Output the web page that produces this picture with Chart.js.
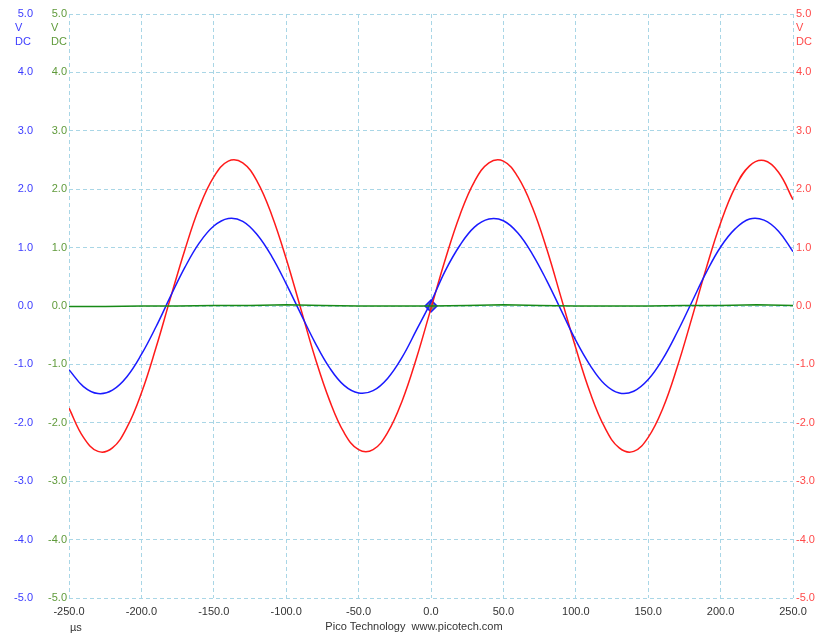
<!DOCTYPE html>
<html>
<head>
<meta charset="utf-8">
<script src="https://cdn.jsdelivr.net/npm/chart.js@4/dist/chart.umd.min.js"></script>
<style>
  html, body { margin: 0; padding: 0; background: #fff; }
  #wrap { position: relative; width: 817px; height: 635px; }
</style>
</head>
<body>
<div id="wrap"><canvas id="scope"></canvas></div>
<script>
// time base, µs
const timeTicks = [-250, -200, -150, -100, -50, 0, 50, 100, 150, 200, 250];
const sampleTimes = [
  -250, -240, -230, -220, -210, -200, -190, -180, -170, -160,
  -150, -140, -130, -120, -110, -100, -90, -80, -70, -60,
  -50, -40, -30, -20, -10, 0, 10, 20, 30, 40,
  50, 60, 70, 80, 90, 100, 110, 120, 130, 140,
  150, 160, 170, 180, 190, 200, 210, 220, 230, 240, 250
];

// channel A (blue), volts
const chanA = [
  -1.09, -1.38, -1.50, -1.44, -1.21, -0.83, -0.36, 0.16, 0.66, 1.08,
  1.37, 1.50, 1.45, 1.22, 0.85, 0.38, -0.13, -0.63, -1.06, -1.36,
  -1.49, -1.45, -1.24, -0.88, -0.41, 0.07, 0.61, 1.04, 1.35, 1.49,
  1.46, 1.25, 0.89, 0.43, -0.08, -0.59, -1.02, -1.34, -1.49, -1.46,
  -1.26, -0.91, -0.45, 0.06, 0.57, 1.01, 1.32, 1.49, 1.47, 1.28, 0.93
];

// channel B (red), volts
const chanB = [
  -1.75, -2.25, -2.49, -2.43, -2.08, -1.49, -0.72, 0.13, 0.96, 1.69,
  2.21, 2.48, 2.45, 2.13, 1.56, 0.81, -0.04, -0.89, -1.62, -2.17,
  -2.46, -2.46, -2.17, -1.63, -0.89, -0.04, 0.81, 1.56, 2.13, 2.45,
  2.48, 2.21, 1.69, 0.97, 0.13, -0.72, -1.49, -2.08, -2.43, -2.49,
  -2.25, -1.76, -1.05, -0.22, 0.64, 1.42, 2.03, 2.40, 2.49, 2.29, 1.82
];

// channel C (green), volts
const chanCTimes = [-250, -225, -200, -175, -150, -125, -100, -75, -50, -25, 0, 25, 50, 75, 100, 125, 150, 175, 200, 225, 250];
const chanC = [-0.01, -0.01, 0.0, 0.0, 0.01, 0.01, 0.02, 0.01, 0.0, 0.0, 0.0, 0.01, 0.02, 0.01, 0.0, 0.0, 0.0, 0.01, 0.01, 0.02, 0.01];

// trigger point
const trigger = [{ x: 0, y: 0 }];

const BLUE = '#1a1aff', RED = '#ff1a1a', GREEN = '#178a17';
const BLUE_TXT = '#3c3cff', GREEN_TXT = '#5f9a3a', RED_TXT = '#ff4a4a';
const GRID = '#a9d6e6';
const FONT = { family: '"Liberation Sans", Arial, sans-serif', size: 11 };

const pts = (xs, ys) => xs.map((x, i) => ({ x, y: ys[i] }));

const voltTicks = (color, padding) => ({
  min: -5, max: 5,
  ticks: { stepSize: 1, color, font: FONT, padding, callback: v => v.toFixed(1), autoSkip: false },
});

// unit captions under the top tick and the footer text
const ScopeText = {
  id: 'scopeText',
  afterDraw(chart) {
    const { ctx, scales } = chart;
    ctx.save();
    ctx.font = `${FONT.size}px ${FONT.family}`;
    ctx.textBaseline = 'middle';
    const top = scales.yA.getPixelForValue(5);
    const unit = (x, color) => {
      ctx.fillStyle = color;
      ctx.textAlign = 'left';
      ctx.fillText('V', x, top + 14);
      ctx.fillText('DC', x, top + 28);
    };
    unit(15, BLUE_TXT);
    unit(51, GREEN_TXT);
    unit(scales.yB.left + 3, RED_TXT);

    ctx.fillStyle = '#333';
    ctx.textAlign = 'left';
    ctx.fillText('µs', 70, 628);
    ctx.textAlign = 'center';
    ctx.fillText('Pico Technology  www.picotech.com', 414, 627);
    ctx.restore();
  }
};

const trace = (label, xs, ys, color, axis) => ({
  label, data: pts(xs, ys), borderColor: color, borderWidth: 1.5,
  pointRadius: 0, yAxisID: axis, tension: 0.4,
});

new Chart(document.getElementById('scope'), {
  type: 'line',
  data: {
    datasets: [
      { ...trace('C', chanCTimes, chanC, GREEN, 'yC'), tension: 0 },
      trace('A', sampleTimes, chanA, BLUE, 'yA'),
      trace('B', sampleTimes, chanB, RED, 'yB'),
      { label: 'trig', data: trigger, showLine: false, pointStyle: 'rectRot', pointRadius: 6, backgroundColor: '#7a8f74', borderColor: BLUE, borderWidth: 1.5, yAxisID: 'yA' },
    ]
  },
  options: {
    responsive: true, maintainAspectRatio: false, animation: false,
    layout: { padding: { top: 14, left: 0, right: 0, bottom: 0 } },
    plugins: { legend: { display: false }, tooltip: { enabled: false } },
    scales: {
      x: {
        type: 'linear', min: -250, max: 250,
        afterBuildTicks: s => { s.ticks = timeTicks.map(v => ({ value: v })); },
        afterFit: s => { s.height = 37; },
        ticks: { color: '#333', font: FONT, padding: 7, callback: v => v.toFixed(1), maxRotation: 0 },
        grid: { color: GRID, drawTicks: false, tickLength: 0 },
        border: { display: false, dash: [4, 3] },
      },
      // green scale sits next to the plot, blue one outside it
      yC: {
        position: 'left', ...voltTicks(GREEN_TXT, 2),
        afterFit: s => { s.width = 35; },
        grid: { color: GRID, drawTicks: false, tickLength: 0 },
        border: { display: false, dash: [4, 3] },
      },
      yA: {
        position: 'left', ...voltTicks(BLUE_TXT, 1),
        afterFit: s => { s.width = 34; },
        grid: { display: false, drawTicks: false, tickLength: 0 }, border: { display: false },
      },
      yB: {
        position: 'right', ...voltTicks(RED_TXT, 3),
        afterFit: s => { s.width = 24; },
        grid: { display: false, drawTicks: false, tickLength: 0 }, border: { display: false },
      },
    }
  },
  plugins: [ScopeText],
});
</script>
</body>
</html>
